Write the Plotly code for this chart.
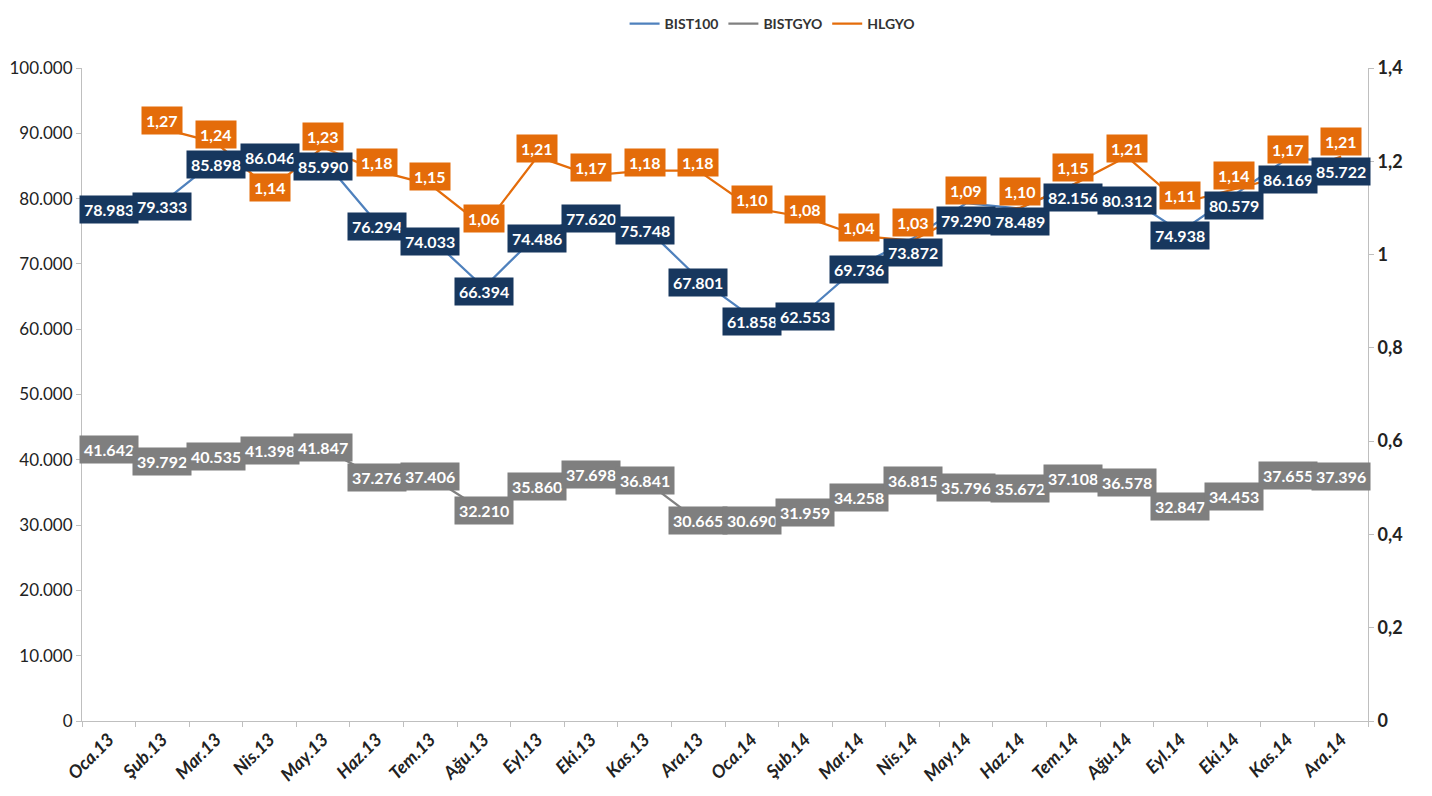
import plotly.graph_objects as go

months = ["Oca.13", "Şub.13", "Mar.13", "Nis.13", "May.13", "Haz.13", "Tem.13", "Ağu.13",
          "Eyl.13", "Eki.13", "Kas.13", "Ara.13", "Oca.14", "Şub.14", "Mar.14", "Nis.14",
          "May.14", "Haz.14", "Tem.14", "Ağu.14", "Eyl.14", "Eki.14", "Kas.14", "Ara.14"]

bist100 = [78983, 79333, 85898, 86046, 85990, 76294, 74033, 66394, 74486, 77620, 75748, 67801,
           61858, 62553, 69736, 73872, 79290, 78489, 82156, 80312, 74938, 80579, 86169, 85722]

bistgyo = [41642, 39792, 40535, 41398, 41847, 37276, 37406, 32210, 35860, 37698, 36841, 30665,
           30690, 31959, 34258, 36815, 35796, 35672, 37108, 36578, 32847, 34453, 37655, 37396]

hlgyo = [None, 1.27, 1.24, 1.14, 1.23, 1.18, 1.15, 1.06, 1.21, 1.17, 1.18, 1.18,
         1.10, 1.08, 1.04, 1.03, 1.09, 1.10, 1.15, 1.21, 1.11, 1.14, 1.17, 1.21]

Y_MAX = 100000
Y2_MAX = 1.4
PLOT_H = 788 - 60 - 75  # plot area height in px

def fmt_thousands(v):
    return f"{v:,}".replace(",", ".")

def fmt_ratio(v):
    return f"{v:.2f}".replace(".", ",")

#push BIST100 and HLGYO labels apart where the two lines run close together
shift_b, shift_h = [], []
for b, h in zip(bist100, hlgyo):
    sb, sh = -4, 8
    if h is not None:
        yb = b / Y_MAX * PLOT_H
        yh = h / Y2_MAX * PLOT_H
        if yh - yb > -20:  # HLGYO label goes on top
            gap = (yh + sh) - (yb + sb)
            if gap < 30:
                sh += (30 - gap) / 2
                sb -= (30 - gap) / 2
        else:
            gap = (yb + sb) - (yh + sh)
            if gap < 30:
                sh -= (30 - gap) / 2
                sb += (30 - gap) / 2
    shift_b.append(sb)
    shift_h.append(sh)

# series: name, values, axis, line colour, label box colour, formatter, label shifts (px)
series = [
    ("BIST100", bist100, "y", "#4f81bd", "#17375e", fmt_thousands, shift_b),
    ("BISTGYO", bistgyo, "y", "#808080", "#7f7f7f", fmt_thousands, [0] * len(months)),
    ("HLGYO", hlgyo, "y2", "#e46c0a", "#e46c0a", fmt_ratio, shift_h),
]

fig = go.Figure()
annotations = []
for name, vals, axis, line_col, box_col, fmt, shifts in series:
    fig.add_trace(go.Scatter(x=months, y=vals, name=name, mode="lines", yaxis=axis,
                             line=dict(color=line_col, width=2.25)))
    #data labels as boxed annotations, like the excel callouts
    for m, v, s in zip(months, vals, shifts):
        if v is None:
            continue
        annotations.append(dict(x=m, y=v, xref="x", yref=axis, text=fmt(v), showarrow=False,
                                yshift=s, bgcolor=box_col, borderpad=4,
                                font=dict(family="Lato", size=16, color="white", weight="bold")))

#page body has an 8px margin, so the figure is 8px smaller and the margins are shifted
fig.update_layout(
    width=1424, height=788,
    margin=dict(l=74, r=64, t=60, b=75),
    paper_bgcolor="white", plot_bgcolor="white",
    separators=",.",
    annotations=annotations,
    legend=dict(orientation="h", x=0.537, xanchor="center", yref="container", y=1, yanchor="top",
                font=dict(family="Lato", size=14, color="#333333", weight="bold"),
                itemwidth=30, tracegroupgap=0),
    xaxis=dict(type="category", range=[-0.5, 23.5], tickson="boundaries", automargin=False,
               ticks="outside", ticklen=5, tickcolor="#bfbfbf",
               showline=True, linecolor="#bfbfbf", linewidth=1, showgrid=False,
               tickangle=-45,
               tickfont=dict(family="Lato", size=18, color="#222222", weight="bold", style="italic")),
    yaxis=dict(range=[0, Y_MAX], dtick=10000, tickformat=",d", automargin=False,
               ticks="outside", ticklen=5, tickcolor="#bfbfbf",
               showline=True, linecolor="#bfbfbf", linewidth=1, showgrid=False, zeroline=False,
               tickfont=dict(family="Lato", size=17, color="#222222")),
    yaxis2=dict(range=[0, Y2_MAX], dtick=0.2, overlaying="y", side="right", automargin=False,
                ticks="outside", ticklen=5, tickcolor="#bfbfbf",
                showline=True, linecolor="#bfbfbf", linewidth=1, showgrid=False, zeroline=False,
                tickfont=dict(family="Lato", size=18, color="#222222", weight="bold")),
)

fig.write_html("out.html")
